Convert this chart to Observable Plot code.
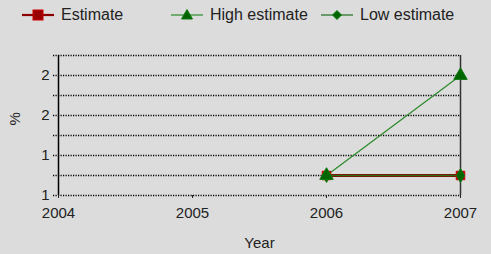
<!DOCTYPE html>
<html><head><meta charset="utf-8">
<script src="https://cdn.jsdelivr.net/npm/d3@7"></script>
<script src="https://cdn.jsdelivr.net/npm/@observablehq/plot@0.6"></script>
<style>
html,body{margin:0;padding:0;background:#dcdcdc;}
#wrap{position:relative;width:491px;height:254px;background:#dcdcdc;font-family:"Liberation Sans",Arial,sans-serif;color:#222;}
#legend{position:absolute;left:0;top:0;width:491px;height:30px;}
.item{position:absolute;top:4px;font-size:16px;line-height:20px;display:flex;align-items:center;}
.item svg{margin-right:7px;}
</style></head>
<body><div id="wrap"><div id="legend"></div><div id="chart"></div></div>
<script>
const years = [2006, 2007];
const estimate = [1.0, 1.0];
const highEstimate = [1.0, 2.0];
const lowEstimate = [1.0, 1.0];
const xTicks = [2004, 2005, 2006, 2007];
const yGrid = [0.8, 1.0, 1.2, 1.4, 1.6, 1.8, 2.0, 2.2];
const yLabelTicks = [0.8, 1.2, 1.6, 2.0];
const seriesNames = ["Estimate", "High estimate", "Low estimate"];

const rows = (vals) => years.map((y, i) => ({year: y, value: vals[i]}));
const est = rows(estimate), high = rows(highEstimate), low = rows(lowEstimate);

const chart = Plot.plot({
  width: 491, height: 254,
  marginLeft: 58, marginRight: 31, marginTop: 55, marginBottom: 59,
  style: {background: "transparent", fontFamily: "Liberation Sans, Arial, sans-serif", fontSize: "15px", color: "#222"},
  x: {domain: [2004, 2007], label: null},
  y: {domain: [0.8, 2.2], label: null},
  marks: [
    Plot.ruleY(yGrid, {stroke: "#000", strokeWidth: 1.6, strokeDasharray: "1.2,1.3", insetLeft: -5}),
    Plot.ruleX([2004], {stroke: "#000", strokeWidth: 1.5}),
    Plot.ruleX([2007], {stroke: "#333", strokeWidth: 1.5}),
    Plot.axisX(xTicks, {tickSize: 3, tickPadding: 9, tickFormat: d3.format("d"), fontSize: 15, label: null}),
    Plot.axisY(yLabelTicks, {tickSize: 0, tickPadding: 9, tickFormat: d3.format(".0f"), fontSize: 15, label: null}),
    Plot.text(["Year"], {frameAnchor: "bottom", dy: 52, fontSize: 15, fill: "#222"}),
    Plot.text(["%"], {frameAnchor: "left", dx: -43, rotate: -90, fontSize: 15, fill: "#222"}),
    Plot.line(est, {x: "year", y: "value", stroke: "#8b0000", strokeWidth: 3}),
    Plot.line(high, {x: "year", y: "value", stroke: "#2a8a2a", strokeWidth: 1.2}),
    Plot.line(low, {x: "year", y: "value", stroke: "#2f6a10", strokeWidth: 1.6}),
    Plot.dot(est, {x: "year", y: "value", symbol: "square", r: 4.8, fill: "#990000", stroke: "#cc0000", strokeWidth: 1}),
    Plot.dot(low, {x: "year", y: "value", symbol: "diamond", r: 4.2, fill: "#006600", stroke: "#117711", strokeWidth: 1}),
    Plot.dot(high, {x: "year", y: "value", symbol: "triangle", r: 5, fill: "#006600", stroke: "#117711", strokeWidth: 1})
  ]
});
document.getElementById("chart").appendChild(chart);

// legend
const legendDefs = [
  {name: seriesNames[0], left: 22, line: "#8b0000", lw: 2.2, shape: '<rect x="11" y="6" width="10" height="10" fill="#990000" stroke="#cc0000"/>'},
  {name: seriesNames[1], left: 171, line: "#2a8a2a", lw: 1.2, shape: '<polygon points="16,5.5 21.5,15 10.5,15" fill="#006600" stroke="#117711"/>'},
  {name: seriesNames[2], left: 321, line: "#1f6f1f", lw: 1.2, shape: '<polygon points="16,6.5 20.5,11 16,15.5 11.5,11" fill="#006600" stroke="#117711"/>'}
];
const lg = document.getElementById("legend");
for (const d of legendDefs) {
  const el = document.createElement("div");
  el.className = "item";
  el.style.left = d.left + "px";
  el.innerHTML = `<svg width="32" height="22"><line x1="0" x2="32" y1="11" y2="11" stroke="${d.line}" stroke-width="${d.lw}"/>${d.shape}</svg><span>${d.name}</span>`;
  lg.appendChild(el);
}
</script></body></html>
